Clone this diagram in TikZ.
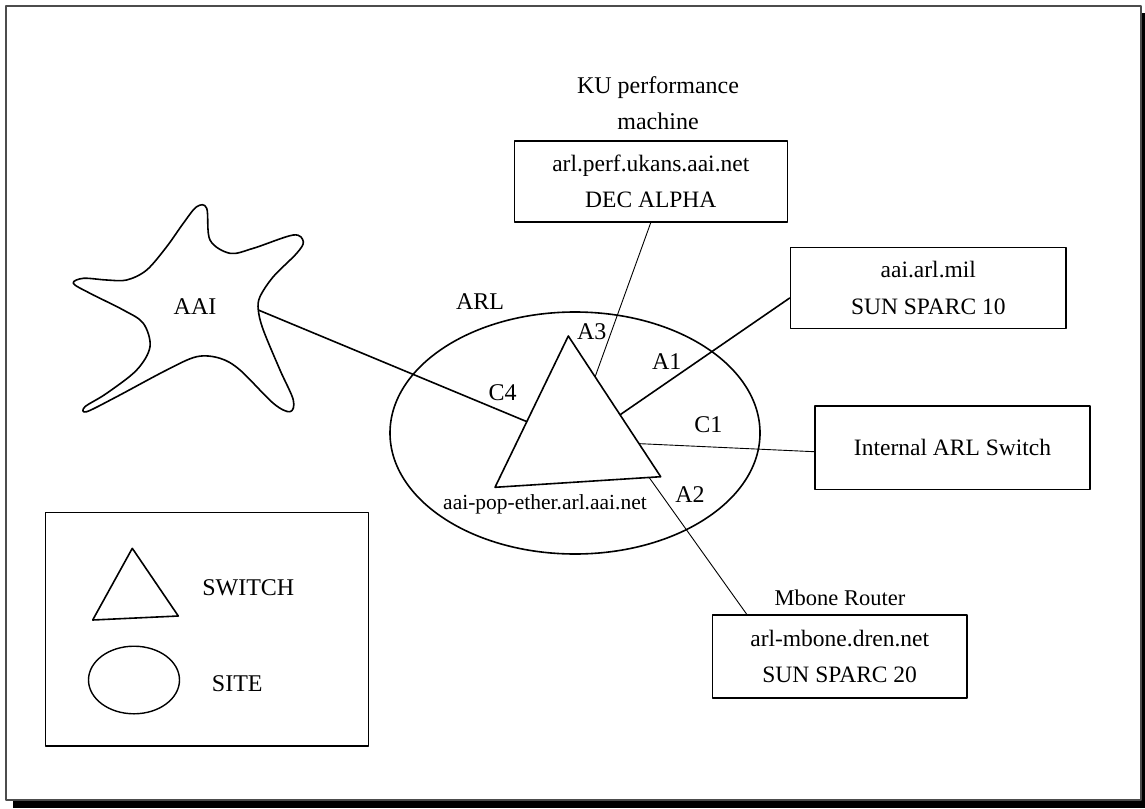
\documentclass[tikz,border=0pt]{standalone}
\usepackage{fontspec}
\setmainfont{Liberation Serif}
\usetikzlibrary{shapes.geometric,calc}
\begin{document}
\begin{tikzpicture}[x=1pt,y=-1pt,
  line join=round,
  outline/.style={draw=black,line width=1.6pt},
  hostbox/.style={draw=black,line width=1.6pt,align=center,inner sep=0pt,
    font=\fontsize{23.5}{36.5}\selectfont},
  lbl/.style={font=\fontsize{24}{36.5}\selectfont,inner sep=0pt,align=center},
  smalllbl/.style={font=\fontsize{21.5}{26}\selectfont,inner sep=0pt},
  thinlink/.style={draw=black,line width=0.9pt},
  thicklink/.style={draw=black,line width=1.6pt}]
\useasboundingbox (0,0) rectangle (1145,808);

% page frame with its drop shadow
\fill[black] (13,800) rectangle (1145,808);
\fill[black] (1141,13) rectangle (1145,808);
\draw[line width=1.4pt,draw=black!70] (6,6) rectangle (1141,800);

% AAI cloud
\draw[outline] plot[smooth cycle,tension=0.55] coordinates {
  (206.7,208.3) (210,240) (230,253.3) (253.3,248.3) (293.3,235)
  (303.3,241.7) (296.7,253.3) (273.3,276.7) (260,296.7) (258.3,310)
  (263.3,330) (280,370) (293.3,400) (290,411.7) (273.3,403.3)
  (240,370) (220,358.3) (196.7,356.7) (166.7,370) (116.7,396.7)
  (86.7,411.7) (85,406.7) (106.7,393.3) (136.7,370) (150,346.7)
  (143.3,323.3) (123.3,310) (90,293.3) (73.3,283.3) (83.3,278.3)
  (106.7,280) (126.7,280) (146.7,270) (166.7,246.7) (183.3,223.3)
  (196.7,206.7)};
\coordinate (aaiport) at (258.3,310);
\node[lbl] (aai) at (195,306.7) {AAI};

% ARL site
\node[draw=black,line width=1.6pt,ellipse,minimum width=370pt,minimum height=242pt,inner sep=0pt]
  (arl) at (575,433) {};
\node[lbl] (arllbl) at (480,301.7) {ARL};

% switch aai-pop-ether
\coordinate (t1) at (568.3,336);
\coordinate (t2) at (660.7,476.7);
\coordinate (t3) at (495,487.3);
\draw[outline] (t1) -- (t2) -- (t3) -- cycle;
\coordinate (pC4) at ($(t1)!0.566!(t3)$);
\coordinate (pA3) at ($(t1)!0.29!(t2)$);
\coordinate (pA1) at ($(t1)!0.56!(t2)$);
\coordinate (pC1) at ($(t1)!0.765!(t2)$);
\coordinate (pA2) at ($(t2)!0.07!(t3)$);
\node[smalllbl] (swlbl) at (545,504) {aai-pop-ether.arl.aai.net};

% hosts
\node[lbl] (kulbl) at (658,103.3) {KU performance\\machine};
\node[hostbox,minimum width=273pt,minimum height=81pt] (perf) at (650.8,181.2)
  {arl.perf.ukans.aai.net\\DEC ALPHA};
\node[hostbox,minimum width=275.3pt,minimum height=81pt] (mil) at (928.3,287.9)
  {aai.arl.mil\\SUN SPARC 10};
\node[hostbox,minimum width=275pt,minimum height=83.3pt] (isw) at (952.5,447.7)
  {Internal ARL Switch};
\node[lbl,font=\fontsize{22.5}{26}\selectfont] (mblbl) at (840,598) {Mbone Router};
\node[hostbox,minimum width=254.7pt,minimum height=82.7pt] (mbone) at (839.7,656.4)
  {arl-mbone.dren.net\\SUN SPARC 20};

% links
\draw[thicklink] (aaiport) -- (pC4);
\draw[thinlink] (pA3) -- (perf.south);
\draw[thicklink] (pA1) -- ([yshift=-10pt]mil.west);
\draw[thinlink] (pC1) -- ([yshift=-4pt]isw.west);
\draw[thinlink] (pA2) -- ([xshift=-93pt]mbone.north);

% port labels
\node[lbl] (lA3) at (591.7,331.7) {A3};
\node[lbl] (lC4) at (502.7,392.7) {C4};
\node[lbl] (lA1) at (666.7,361.7) {A1};
\node[lbl] (lC1) at (708.3,425) {C1};
\node[lbl] (lA2) at (690,495) {A2};

% legend
\draw[line width=1.4pt] (45.7,512.3) rectangle (368.3,746);
\coordinate (k1) at (132.3,548.3);
\coordinate (k2) at (178.3,616);
\coordinate (k3) at (92.7,620);
\draw[outline] (k1) -- (k2) -- (k3) -- cycle;
\node[lbl] (kswitch) at (248.3,587.3) {SWITCH};
\node[draw=black,line width=1.4pt,ellipse,minimum width=91pt,minimum height=67.6pt,inner sep=0pt]
  (ksite) at (134,680) {};
\node[lbl] (ksitelbl) at (237.3,683.3) {SITE};
\end{tikzpicture}
\end{document}
